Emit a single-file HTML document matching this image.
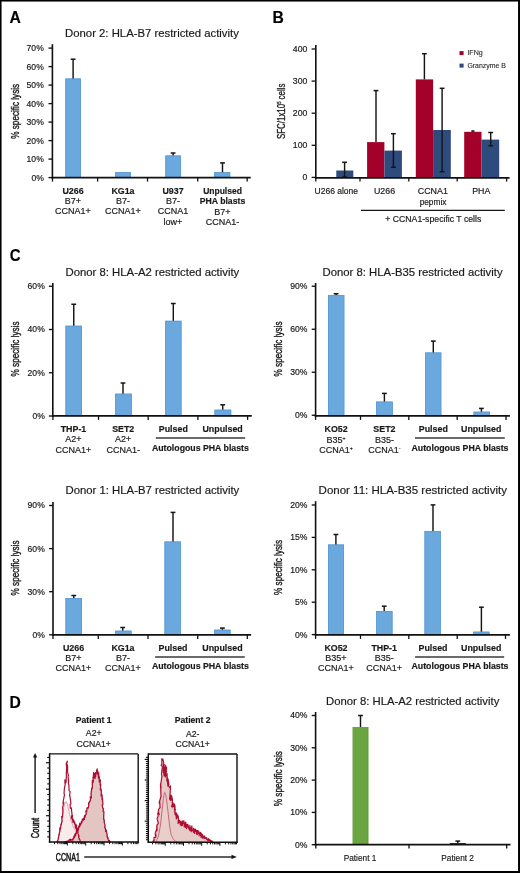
<!DOCTYPE html>
<html><head><meta charset="utf-8"><title>Figure</title>
<style>
html,body{margin:0;padding:0;background:#fff;}
body{width:520px;height:873px;overflow:hidden;position:relative;}
svg{position:absolute;left:0;top:0;display:block;will-change:transform;}
text{font-family:"Liberation Sans", sans-serif;stroke:#1a1a1a;stroke-width:0.18px;}
</style></head>
<body>
<svg width="520" height="873" viewBox="0 0 520 873">
<rect x="0" y="0" width="520" height="873" fill="#fff"/>
<text x="9.4" y="22.8" font-size="15.7" text-anchor="start" font-weight="bold" fill="#000" style="stroke:#000;stroke-width:0.15px">A</text>
<text x="272.6" y="22.8" font-size="15.7" text-anchor="start" font-weight="bold" fill="#000" style="stroke:#000;stroke-width:0.15px">B</text>
<text transform="translate(9.7,261.4) scale(0.92,1)" x="0" y="0" font-size="16.3" text-anchor="start" font-weight="bold" fill="#000" style="stroke:#000;stroke-width:0.15px">C</text>
<text x="9.6" y="707.8" font-size="15.7" text-anchor="start" font-weight="bold" fill="#000" style="stroke:#000;stroke-width:0.15px">D</text>
<text x="151.95" y="37.2" font-size="11.33" text-anchor="middle" fill="#1a1a1a">Donor 2: HLA-B7 restricted activity</text>
<line x1="48.5" y1="48.1" x2="52.4" y2="48.1" stroke="#111" stroke-width="1.35" stroke-linecap="butt"/>
<text x="43.8" y="51" font-size="8.6" text-anchor="end" fill="#1a1a1a">70%</text>
<line x1="48.5" y1="66.6" x2="52.4" y2="66.6" stroke="#111" stroke-width="1.35" stroke-linecap="butt"/>
<text x="43.8" y="69.5" font-size="8.6" text-anchor="end" fill="#1a1a1a">60%</text>
<line x1="48.5" y1="85.1" x2="52.4" y2="85.1" stroke="#111" stroke-width="1.35" stroke-linecap="butt"/>
<text x="43.8" y="88" font-size="8.6" text-anchor="end" fill="#1a1a1a">50%</text>
<line x1="48.5" y1="103.6" x2="52.4" y2="103.6" stroke="#111" stroke-width="1.35" stroke-linecap="butt"/>
<text x="43.8" y="106.5" font-size="8.6" text-anchor="end" fill="#1a1a1a">40%</text>
<line x1="48.5" y1="122.1" x2="52.4" y2="122.1" stroke="#111" stroke-width="1.35" stroke-linecap="butt"/>
<text x="43.8" y="125" font-size="8.6" text-anchor="end" fill="#1a1a1a">30%</text>
<line x1="48.5" y1="140.6" x2="52.4" y2="140.6" stroke="#111" stroke-width="1.35" stroke-linecap="butt"/>
<text x="43.8" y="143.5" font-size="8.6" text-anchor="end" fill="#1a1a1a">20%</text>
<line x1="48.5" y1="159.1" x2="52.4" y2="159.1" stroke="#111" stroke-width="1.35" stroke-linecap="butt"/>
<text x="43.8" y="162" font-size="8.6" text-anchor="end" fill="#1a1a1a">10%</text>
<line x1="48.5" y1="177.6" x2="52.4" y2="177.6" stroke="#111" stroke-width="1.35" stroke-linecap="butt"/>
<text x="43.8" y="180.5" font-size="8.6" text-anchor="end" fill="#1a1a1a">0%</text>
<rect x="65.4" y="78.5" width="15.5" height="99.1" fill="#6aa8de"/>
<rect x="65.8" y="78.9" width="14.7" height="98.7" fill="none" stroke="#5a9ad4" stroke-width="0.8"/>
<line x1="73.1" y1="59.2" x2="73.1" y2="78.5" stroke="#151515" stroke-width="1.45" stroke-linecap="butt"/>
<line x1="70.7" y1="59.2" x2="75.5" y2="59.2" stroke="#151515" stroke-width="1.5" stroke-linecap="butt"/>
<rect x="115.2" y="172.2" width="15.7" height="5.4" fill="#6aa8de"/>
<rect x="115.6" y="172.6" width="14.9" height="5" fill="none" stroke="#5a9ad4" stroke-width="0.8"/>
<rect x="165.4" y="155.5" width="15.4" height="22.1" fill="#6aa8de"/>
<rect x="165.8" y="155.9" width="14.6" height="21.7" fill="none" stroke="#5a9ad4" stroke-width="0.8"/>
<line x1="173.1" y1="153" x2="173.1" y2="155.5" stroke="#151515" stroke-width="1.45" stroke-linecap="butt"/>
<line x1="170.7" y1="153" x2="175.5" y2="153" stroke="#151515" stroke-width="1.5" stroke-linecap="butt"/>
<rect x="214.2" y="172.2" width="16" height="5.4" fill="#6aa8de"/>
<rect x="214.6" y="172.6" width="15.2" height="5" fill="none" stroke="#5a9ad4" stroke-width="0.8"/>
<line x1="222.5" y1="162.9" x2="222.5" y2="172.2" stroke="#151515" stroke-width="1.45" stroke-linecap="butt"/>
<line x1="220.1" y1="162.9" x2="224.9" y2="162.9" stroke="#151515" stroke-width="1.5" stroke-linecap="butt"/>
<line x1="52.4" y1="44.2" x2="52.4" y2="178.5" stroke="#111" stroke-width="1.6" stroke-linecap="butt"/>
<line x1="51.6" y1="177.6" x2="250.7" y2="177.6" stroke="#111" stroke-width="1.8" stroke-linecap="butt"/>
<line x1="52.5" y1="177.6" x2="52.5" y2="181.6" stroke="#111" stroke-width="1.3" stroke-linecap="butt"/>
<line x1="97.6" y1="177.6" x2="97.6" y2="181.6" stroke="#111" stroke-width="1.3" stroke-linecap="butt"/>
<line x1="147.5" y1="177.6" x2="147.5" y2="181.6" stroke="#111" stroke-width="1.3" stroke-linecap="butt"/>
<line x1="197.7" y1="177.6" x2="197.7" y2="181.6" stroke="#111" stroke-width="1.3" stroke-linecap="butt"/>
<line x1="247.2" y1="177.6" x2="247.2" y2="181.6" stroke="#111" stroke-width="1.3" stroke-linecap="butt"/>
<text x="73" y="193.8" font-size="8.85" text-anchor="middle" font-weight="bold" fill="#1a1a1a">U266</text>
<text x="73" y="203.9" font-size="9" text-anchor="middle" fill="#1a1a1a">B7+</text>
<text x="73" y="214.3" font-size="9" text-anchor="middle" fill="#1a1a1a">CCNA1+</text>
<text x="123" y="193.8" font-size="8.85" text-anchor="middle" font-weight="bold" fill="#1a1a1a">KG1a</text>
<text x="123" y="203.9" font-size="9" text-anchor="middle" fill="#1a1a1a">B7-</text>
<text x="123" y="214.3" font-size="9" text-anchor="middle" fill="#1a1a1a">CCNA1+</text>
<text x="173" y="193.8" font-size="8.85" text-anchor="middle" font-weight="bold" fill="#1a1a1a">U937</text>
<text x="173" y="203.9" font-size="9" text-anchor="middle" fill="#1a1a1a">B7-</text>
<text x="173" y="214.3" font-size="9" text-anchor="middle" fill="#1a1a1a">CCNA1</text>
<text x="173" y="224.7" font-size="9" text-anchor="middle" fill="#1a1a1a">low+</text>
<text x="222.5" y="193.8" font-size="8.5" text-anchor="middle" font-weight="bold" fill="#1a1a1a">Unpulsed</text>
<text x="222.5" y="204" font-size="8.7" text-anchor="middle" font-weight="bold" fill="#1a1a1a">PHA blasts</text>
<text x="222.5" y="214.6" font-size="9" text-anchor="middle" fill="#1a1a1a">B7+</text>
<text x="222.5" y="224.6" font-size="9" text-anchor="middle" fill="#1a1a1a">CCNA1-</text>
<text transform="translate(19,111.3) rotate(-90) scale(0.7,1)" x="0" y="0" font-size="11.7" text-anchor="middle" fill="#1a1a1a" style="stroke-width:0.4px">% specific lysis</text>
<line x1="311.6" y1="49" x2="315.8" y2="49" stroke="#111" stroke-width="1.3" stroke-linecap="butt"/>
<text x="307.3" y="52" font-size="8.7" text-anchor="end" fill="#1a1a1a">400</text>
<line x1="311.6" y1="81.1" x2="315.8" y2="81.1" stroke="#111" stroke-width="1.3" stroke-linecap="butt"/>
<text x="307.3" y="84.1" font-size="8.7" text-anchor="end" fill="#1a1a1a">300</text>
<line x1="311.6" y1="113.2" x2="315.8" y2="113.2" stroke="#111" stroke-width="1.3" stroke-linecap="butt"/>
<text x="307.3" y="116.2" font-size="8.7" text-anchor="end" fill="#1a1a1a">200</text>
<line x1="311.6" y1="145.3" x2="315.8" y2="145.3" stroke="#111" stroke-width="1.3" stroke-linecap="butt"/>
<text x="307.3" y="148.3" font-size="8.7" text-anchor="end" fill="#1a1a1a">100</text>
<line x1="311.6" y1="177.4" x2="315.8" y2="177.4" stroke="#111" stroke-width="1.3" stroke-linecap="butt"/>
<text x="307.3" y="180.4" font-size="8.7" text-anchor="end" fill="#1a1a1a">0</text>
<rect x="336.3" y="170.5" width="17" height="7.4" fill="#2e4b7d"/>
<line x1="344.6" y1="162.3" x2="344.6" y2="177" stroke="#151515" stroke-width="1.45" stroke-linecap="butt"/>
<line x1="342.2" y1="162.3" x2="347" y2="162.3" stroke="#151515" stroke-width="1.5" stroke-linecap="butt"/>
<line x1="342.2" y1="177" x2="347" y2="177" stroke="#151515" stroke-width="1.5" stroke-linecap="butt"/>
<rect x="367.1" y="142.1" width="17.3" height="35.8" fill="#a3002a"/>
<line x1="376" y1="90.6" x2="376" y2="142.1" stroke="#151515" stroke-width="1.45" stroke-linecap="butt"/>
<line x1="373.6" y1="90.6" x2="378.4" y2="90.6" stroke="#151515" stroke-width="1.5" stroke-linecap="butt"/>
<rect x="384.4" y="150.6" width="17.5" height="27.3" fill="#2e4b7d"/>
<line x1="393.4" y1="133.7" x2="393.4" y2="167.3" stroke="#151515" stroke-width="1.45" stroke-linecap="butt"/>
<line x1="391" y1="133.7" x2="395.8" y2="133.7" stroke="#151515" stroke-width="1.5" stroke-linecap="butt"/>
<line x1="391" y1="167.3" x2="395.8" y2="167.3" stroke="#151515" stroke-width="1.5" stroke-linecap="butt"/>
<rect x="415.8" y="79.4" width="17.3" height="98.5" fill="#a3002a"/>
<line x1="424.4" y1="53.7" x2="424.4" y2="79.4" stroke="#151515" stroke-width="1.45" stroke-linecap="butt"/>
<line x1="422" y1="53.7" x2="426.8" y2="53.7" stroke="#151515" stroke-width="1.5" stroke-linecap="butt"/>
<rect x="433.1" y="130" width="17.7" height="47.9" fill="#2e4b7d"/>
<line x1="442.1" y1="88.3" x2="442.1" y2="171.7" stroke="#151515" stroke-width="1.45" stroke-linecap="butt"/>
<line x1="439.7" y1="88.3" x2="444.5" y2="88.3" stroke="#151515" stroke-width="1.5" stroke-linecap="butt"/>
<line x1="439.7" y1="171.7" x2="444.5" y2="171.7" stroke="#151515" stroke-width="1.5" stroke-linecap="butt"/>
<rect x="464.2" y="131.8" width="17.3" height="46.1" fill="#a3002a"/>
<line x1="472.9" y1="131" x2="472.9" y2="131.8" stroke="#151515" stroke-width="1.45" stroke-linecap="butt"/>
<line x1="471.3" y1="131" x2="474.5" y2="131" stroke="#151515" stroke-width="1.5" stroke-linecap="butt"/>
<rect x="481.5" y="139.6" width="17.7" height="38.3" fill="#2e4b7d"/>
<line x1="490.7" y1="132.5" x2="490.7" y2="145.8" stroke="#151515" stroke-width="1.45" stroke-linecap="butt"/>
<line x1="488.3" y1="132.5" x2="493.1" y2="132.5" stroke="#151515" stroke-width="1.5" stroke-linecap="butt"/>
<line x1="488.3" y1="145.8" x2="493.1" y2="145.8" stroke="#151515" stroke-width="1.5" stroke-linecap="butt"/>
<line x1="315.8" y1="45" x2="315.8" y2="178.7" stroke="#111" stroke-width="1.6" stroke-linecap="butt"/>
<line x1="315" y1="177.9" x2="509.6" y2="177.9" stroke="#111" stroke-width="1.8" stroke-linecap="butt"/>
<line x1="315.8" y1="177.9" x2="315.8" y2="181.6" stroke="#111" stroke-width="1.3" stroke-linecap="butt"/>
<line x1="360" y1="177.9" x2="360" y2="181.6" stroke="#111" stroke-width="1.3" stroke-linecap="butt"/>
<line x1="408.8" y1="177.9" x2="408.8" y2="181.6" stroke="#111" stroke-width="1.3" stroke-linecap="butt"/>
<line x1="457.2" y1="177.9" x2="457.2" y2="181.6" stroke="#111" stroke-width="1.3" stroke-linecap="butt"/>
<line x1="506.6" y1="177.9" x2="506.6" y2="181.6" stroke="#111" stroke-width="1.3" stroke-linecap="butt"/>
<rect x="459.5" y="51.1" width="4.1" height="4" fill="#a3002a"/>
<text x="467.4" y="55.1" font-size="7.1" text-anchor="start" fill="#2a2a2a" style="stroke-width:0.1px">IFNg</text>
<rect x="459.5" y="63.6" width="4.1" height="4" fill="#2e4b7d"/>
<text x="467.4" y="67.5" font-size="6.95" text-anchor="start" fill="#2a2a2a" style="stroke-width:0.1px">Granzyme B</text>
<text x="336.3" y="193.6" font-size="8.5" text-anchor="middle" fill="#1a1a1a">U266 alone</text>
<text x="384.5" y="193.8" font-size="8.85" text-anchor="middle" fill="#1a1a1a">U266</text>
<text x="432.8" y="193.8" font-size="8.9" text-anchor="middle" fill="#1a1a1a">CCNA1</text>
<text x="433" y="204.6" font-size="8.3" text-anchor="middle" fill="#1a1a1a">pepmix</text>
<text x="481.3" y="193.8" font-size="8.8" text-anchor="middle" fill="#1a1a1a">PHA</text>
<line x1="361" y1="210.3" x2="504.8" y2="210.3" stroke="#151515" stroke-width="1.35" stroke-linecap="butt"/>
<text x="433.3" y="222.3" font-size="8.7" text-anchor="middle" fill="#1a1a1a">+ CCNA1-specific T cells</text>
<text transform="translate(285.3,111.3) rotate(-90) scale(0.69,1)" x="0" y="0" font-size="11.5" text-anchor="middle" fill="#1a1a1a" style="stroke-width:0.35px">SFC/1x10<tspan dy="-4.4" font-size="5.8">5</tspan><tspan dy="4.4"> cells</tspan></text>
<text x="65.5" y="275.8" font-size="11.33" text-anchor="start" fill="#1a1a1a">Donor 8: HLA-A2 restricted activity</text>
<line x1="48.9" y1="286.25" x2="52.8" y2="286.25" stroke="#111" stroke-width="1.35" stroke-linecap="butt"/>
<text x="44.8" y="289.15" font-size="8.6" text-anchor="end" fill="#1a1a1a">60%</text>
<line x1="48.9" y1="329.5" x2="52.8" y2="329.5" stroke="#111" stroke-width="1.35" stroke-linecap="butt"/>
<text x="44.8" y="332.4" font-size="8.6" text-anchor="end" fill="#1a1a1a">40%</text>
<line x1="48.9" y1="372.75" x2="52.8" y2="372.75" stroke="#111" stroke-width="1.35" stroke-linecap="butt"/>
<text x="44.8" y="375.65" font-size="8.6" text-anchor="end" fill="#1a1a1a">20%</text>
<line x1="48.9" y1="416" x2="52.8" y2="416" stroke="#111" stroke-width="1.35" stroke-linecap="butt"/>
<text x="44.8" y="418.9" font-size="8.6" text-anchor="end" fill="#1a1a1a">0%</text>
<rect x="65.5" y="325.75" width="16.5" height="90.15" fill="#6aa8de"/>
<rect x="65.9" y="326.15" width="15.7" height="89.75" fill="none" stroke="#5a9ad4" stroke-width="0.8"/>
<line x1="73.75" y1="304.25" x2="73.75" y2="325.75" stroke="#151515" stroke-width="1.45" stroke-linecap="butt"/>
<line x1="71.35" y1="304.25" x2="76.15" y2="304.25" stroke="#151515" stroke-width="1.5" stroke-linecap="butt"/>
<rect x="115.2" y="393.7" width="16.6" height="22.2" fill="#6aa8de"/>
<rect x="115.6" y="394.1" width="15.8" height="21.8" fill="none" stroke="#5a9ad4" stroke-width="0.8"/>
<line x1="123" y1="383" x2="123" y2="393.7" stroke="#151515" stroke-width="1.45" stroke-linecap="butt"/>
<line x1="120.6" y1="383" x2="125.4" y2="383" stroke="#151515" stroke-width="1.5" stroke-linecap="butt"/>
<rect x="165.2" y="320.8" width="16.3" height="95.1" fill="#6aa8de"/>
<rect x="165.6" y="321.2" width="15.5" height="94.7" fill="none" stroke="#5a9ad4" stroke-width="0.8"/>
<line x1="173.3" y1="303.5" x2="173.3" y2="320.8" stroke="#151515" stroke-width="1.45" stroke-linecap="butt"/>
<line x1="170.9" y1="303.5" x2="175.7" y2="303.5" stroke="#151515" stroke-width="1.5" stroke-linecap="butt"/>
<rect x="214.5" y="409.7" width="16.7" height="6.2" fill="#6aa8de"/>
<rect x="214.9" y="410.1" width="15.9" height="5.8" fill="none" stroke="#5a9ad4" stroke-width="0.8"/>
<line x1="222.7" y1="404.8" x2="222.7" y2="409.7" stroke="#151515" stroke-width="1.45" stroke-linecap="butt"/>
<line x1="220.3" y1="404.8" x2="225.1" y2="404.8" stroke="#151515" stroke-width="1.5" stroke-linecap="butt"/>
<line x1="52.8" y1="283" x2="52.8" y2="416.8" stroke="#111" stroke-width="1.6" stroke-linecap="butt"/>
<line x1="52" y1="415.9" x2="251.8" y2="415.9" stroke="#111" stroke-width="1.8" stroke-linecap="butt"/>
<line x1="52.9" y1="415.9" x2="52.9" y2="419.9" stroke="#111" stroke-width="1.3" stroke-linecap="butt"/>
<line x1="98.5" y1="415.9" x2="98.5" y2="419.9" stroke="#111" stroke-width="1.3" stroke-linecap="butt"/>
<line x1="148.2" y1="415.9" x2="148.2" y2="419.9" stroke="#111" stroke-width="1.3" stroke-linecap="butt"/>
<line x1="197.9" y1="415.9" x2="197.9" y2="419.9" stroke="#111" stroke-width="1.3" stroke-linecap="butt"/>
<line x1="247.6" y1="415.9" x2="247.6" y2="419.9" stroke="#111" stroke-width="1.3" stroke-linecap="butt"/>
<text x="73.5" y="432.2" font-size="8.85" text-anchor="middle" font-weight="bold" fill="#1a1a1a">THP-1</text>
<text x="73.5" y="442.2" font-size="9" text-anchor="middle" fill="#1a1a1a">A2+</text>
<text x="73.5" y="453.2" font-size="9" text-anchor="middle" fill="#1a1a1a">CCNA1+</text>
<text x="123.2" y="432.2" font-size="8.85" text-anchor="middle" font-weight="bold" fill="#1a1a1a">SET2</text>
<text x="123.2" y="442.2" font-size="9" text-anchor="middle" fill="#1a1a1a">A2+</text>
<text x="123.2" y="453.2" font-size="9" text-anchor="middle" fill="#1a1a1a">CCNA1-</text>
<text x="173.3" y="432.2" font-size="8.85" text-anchor="middle" font-weight="bold" fill="#1a1a1a">Pulsed</text>
<text x="222.6" y="432.2" font-size="8.85" text-anchor="middle" font-weight="bold" fill="#1a1a1a">Unpulsed</text>
<line x1="155.8" y1="438" x2="245.2" y2="438" stroke="#3a3a3a" stroke-width="1.45" stroke-linecap="butt"/>
<text x="200.4" y="450.5" font-size="8.75" text-anchor="middle" font-weight="bold" fill="#1a1a1a">Autologous PHA blasts</text>
<text transform="translate(19.2,349) rotate(-90) scale(0.7,1)" x="0" y="0" font-size="11.7" text-anchor="middle" fill="#1a1a1a" style="stroke-width:0.4px">% specific lysis</text>
<text x="322.5" y="275.5" font-size="11.33" text-anchor="start" fill="#1a1a1a">Donor 8: HLA-B35 restricted activity</text>
<line x1="311.7" y1="286.25" x2="315.6" y2="286.25" stroke="#111" stroke-width="1.35" stroke-linecap="butt"/>
<text x="307.4" y="289.15" font-size="8.6" text-anchor="end" fill="#1a1a1a">90%</text>
<line x1="311.7" y1="329.25" x2="315.6" y2="329.25" stroke="#111" stroke-width="1.35" stroke-linecap="butt"/>
<text x="307.4" y="332.15" font-size="8.6" text-anchor="end" fill="#1a1a1a">60%</text>
<line x1="311.7" y1="372.25" x2="315.6" y2="372.25" stroke="#111" stroke-width="1.35" stroke-linecap="butt"/>
<text x="307.4" y="375.15" font-size="8.6" text-anchor="end" fill="#1a1a1a">30%</text>
<line x1="311.7" y1="415.25" x2="315.6" y2="415.25" stroke="#111" stroke-width="1.35" stroke-linecap="butt"/>
<text x="307.4" y="418.15" font-size="8.6" text-anchor="end" fill="#1a1a1a">0%</text>
<rect x="328" y="295" width="16.3" height="120.9" fill="#6aa8de"/>
<rect x="328.4" y="295.4" width="15.5" height="120.5" fill="none" stroke="#5a9ad4" stroke-width="0.8"/>
<line x1="336.1" y1="293.75" x2="336.1" y2="295" stroke="#151515" stroke-width="1.45" stroke-linecap="butt"/>
<line x1="333.7" y1="293.75" x2="338.5" y2="293.75" stroke="#151515" stroke-width="1.5" stroke-linecap="butt"/>
<rect x="376.1" y="401.6" width="16.7" height="14.3" fill="#6aa8de"/>
<rect x="376.5" y="402" width="15.9" height="13.9" fill="none" stroke="#5a9ad4" stroke-width="0.8"/>
<line x1="384.4" y1="393.4" x2="384.4" y2="401.6" stroke="#151515" stroke-width="1.45" stroke-linecap="butt"/>
<line x1="382" y1="393.4" x2="386.8" y2="393.4" stroke="#151515" stroke-width="1.5" stroke-linecap="butt"/>
<rect x="425.2" y="352.5" width="16.1" height="63.4" fill="#6aa8de"/>
<rect x="425.6" y="352.9" width="15.3" height="63" fill="none" stroke="#5a9ad4" stroke-width="0.8"/>
<line x1="433.3" y1="341.1" x2="433.3" y2="352.5" stroke="#151515" stroke-width="1.45" stroke-linecap="butt"/>
<line x1="430.9" y1="341.1" x2="435.7" y2="341.1" stroke="#151515" stroke-width="1.5" stroke-linecap="butt"/>
<rect x="473.5" y="411.7" width="16.4" height="4.2" fill="#6aa8de"/>
<rect x="473.9" y="412.1" width="15.6" height="3.8" fill="none" stroke="#5a9ad4" stroke-width="0.8"/>
<line x1="481.4" y1="408.4" x2="481.4" y2="411.7" stroke="#151515" stroke-width="1.45" stroke-linecap="butt"/>
<line x1="479" y1="408.4" x2="483.8" y2="408.4" stroke="#151515" stroke-width="1.5" stroke-linecap="butt"/>
<line x1="315.6" y1="283" x2="315.6" y2="416.8" stroke="#111" stroke-width="1.6" stroke-linecap="butt"/>
<line x1="314.8" y1="415.9" x2="509.9" y2="415.9" stroke="#111" stroke-width="1.8" stroke-linecap="butt"/>
<line x1="315.6" y1="415.9" x2="315.6" y2="419.9" stroke="#111" stroke-width="1.3" stroke-linecap="butt"/>
<line x1="360.5" y1="415.9" x2="360.5" y2="419.9" stroke="#111" stroke-width="1.3" stroke-linecap="butt"/>
<line x1="408.8" y1="415.9" x2="408.8" y2="419.9" stroke="#111" stroke-width="1.3" stroke-linecap="butt"/>
<line x1="457.2" y1="415.9" x2="457.2" y2="419.9" stroke="#111" stroke-width="1.3" stroke-linecap="butt"/>
<line x1="506" y1="415.9" x2="506" y2="419.9" stroke="#111" stroke-width="1.3" stroke-linecap="butt"/>
<text x="336.1" y="431.6" font-size="8.85" text-anchor="middle" font-weight="bold" fill="#1a1a1a">KO52</text>
<text x="336.1" y="442.5" font-size="9" text-anchor="middle" fill="#1a1a1a">B35<tspan dy="-2.8" font-size="5.2">+</tspan></text>
<text x="336.1" y="452.5" font-size="9" text-anchor="middle" fill="#1a1a1a">CCNA1<tspan dy="-2.8" font-size="5.2">+</tspan></text>
<text x="384.4" y="432.2" font-size="8.85" text-anchor="middle" font-weight="bold" fill="#1a1a1a">SET2</text>
<text x="384.4" y="442.5" font-size="9" text-anchor="middle" fill="#1a1a1a">B35-</text>
<text x="384.4" y="452.5" font-size="9" text-anchor="middle" fill="#1a1a1a">CCNA1<tspan dy="-2.8" font-size="5.2">-</tspan></text>
<text x="433.3" y="432.2" font-size="8.85" text-anchor="middle" font-weight="bold" fill="#1a1a1a">Pulsed</text>
<text x="481.2" y="432.2" font-size="8.85" text-anchor="middle" font-weight="bold" fill="#1a1a1a">Unpulsed</text>
<line x1="415" y1="438" x2="504.8" y2="438" stroke="#3a3a3a" stroke-width="1.45" stroke-linecap="butt"/>
<text x="460" y="450.5" font-size="8.75" text-anchor="middle" font-weight="bold" fill="#1a1a1a">Autologous PHA blasts</text>
<text transform="translate(282.2,349) rotate(-90) scale(0.7,1)" x="0" y="0" font-size="11.7" text-anchor="middle" fill="#1a1a1a" style="stroke-width:0.4px">% specific lysis</text>
<text x="65.5" y="493.8" font-size="11.33" text-anchor="start" fill="#1a1a1a">Donor 1: HLA-B7 restricted activity</text>
<line x1="49.1" y1="505.5" x2="53" y2="505.5" stroke="#111" stroke-width="1.35" stroke-linecap="butt"/>
<text x="44.8" y="508.4" font-size="8.6" text-anchor="end" fill="#1a1a1a">90%</text>
<line x1="49.1" y1="548.6" x2="53" y2="548.6" stroke="#111" stroke-width="1.35" stroke-linecap="butt"/>
<text x="44.8" y="551.5" font-size="8.6" text-anchor="end" fill="#1a1a1a">60%</text>
<line x1="49.1" y1="591.7" x2="53" y2="591.7" stroke="#111" stroke-width="1.35" stroke-linecap="butt"/>
<text x="44.8" y="594.6" font-size="8.6" text-anchor="end" fill="#1a1a1a">30%</text>
<line x1="49.1" y1="634.8" x2="53" y2="634.8" stroke="#111" stroke-width="1.35" stroke-linecap="butt"/>
<text x="44.8" y="637.7" font-size="8.6" text-anchor="end" fill="#1a1a1a">0%</text>
<rect x="65.5" y="598" width="16.5" height="36.9" fill="#6aa8de"/>
<rect x="65.9" y="598.4" width="15.7" height="36.5" fill="none" stroke="#5a9ad4" stroke-width="0.8"/>
<line x1="73.75" y1="595.5" x2="73.75" y2="598" stroke="#151515" stroke-width="1.45" stroke-linecap="butt"/>
<line x1="71.35" y1="595.5" x2="76.15" y2="595.5" stroke="#151515" stroke-width="1.5" stroke-linecap="butt"/>
<rect x="115.2" y="630.7" width="16.3" height="4.2" fill="#6aa8de"/>
<rect x="115.6" y="631.1" width="15.5" height="3.8" fill="none" stroke="#5a9ad4" stroke-width="0.8"/>
<line x1="122.7" y1="627.5" x2="122.7" y2="630.7" stroke="#151515" stroke-width="1.45" stroke-linecap="butt"/>
<line x1="120.3" y1="627.5" x2="125.1" y2="627.5" stroke="#151515" stroke-width="1.5" stroke-linecap="butt"/>
<rect x="164.5" y="541.5" width="16.3" height="93.4" fill="#6aa8de"/>
<rect x="164.9" y="541.9" width="15.5" height="93" fill="none" stroke="#5a9ad4" stroke-width="0.8"/>
<line x1="173" y1="512.4" x2="173" y2="541.5" stroke="#151515" stroke-width="1.45" stroke-linecap="butt"/>
<line x1="170.6" y1="512.4" x2="175.4" y2="512.4" stroke="#151515" stroke-width="1.5" stroke-linecap="butt"/>
<rect x="214.2" y="629.7" width="16.3" height="5.2" fill="#6aa8de"/>
<rect x="214.6" y="630.1" width="15.5" height="4.8" fill="none" stroke="#5a9ad4" stroke-width="0.8"/>
<line x1="222.4" y1="628.1" x2="222.4" y2="629.7" stroke="#151515" stroke-width="1.45" stroke-linecap="butt"/>
<line x1="220" y1="628.1" x2="224.8" y2="628.1" stroke="#151515" stroke-width="1.5" stroke-linecap="butt"/>
<line x1="53" y1="502" x2="53" y2="635.8" stroke="#111" stroke-width="1.6" stroke-linecap="butt"/>
<line x1="52.2" y1="634.9" x2="251.1" y2="634.9" stroke="#111" stroke-width="1.8" stroke-linecap="butt"/>
<line x1="53" y1="634.9" x2="53" y2="638.9" stroke="#111" stroke-width="1.3" stroke-linecap="butt"/>
<line x1="98.3" y1="634.9" x2="98.3" y2="638.9" stroke="#111" stroke-width="1.3" stroke-linecap="butt"/>
<line x1="148" y1="634.9" x2="148" y2="638.9" stroke="#111" stroke-width="1.3" stroke-linecap="butt"/>
<line x1="197.7" y1="634.9" x2="197.7" y2="638.9" stroke="#111" stroke-width="1.3" stroke-linecap="butt"/>
<line x1="247.3" y1="634.9" x2="247.3" y2="638.9" stroke="#111" stroke-width="1.3" stroke-linecap="butt"/>
<text x="73.5" y="650.6" font-size="8.85" text-anchor="middle" font-weight="bold" fill="#1a1a1a">U266</text>
<text x="73.5" y="661" font-size="9" text-anchor="middle" fill="#1a1a1a">B7+</text>
<text x="73.5" y="671.4" font-size="9" text-anchor="middle" fill="#1a1a1a">CCNA1+</text>
<text x="123" y="650.6" font-size="8.85" text-anchor="middle" font-weight="bold" fill="#1a1a1a">KG1a</text>
<text x="123" y="661" font-size="9" text-anchor="middle" fill="#1a1a1a">B7-</text>
<text x="123" y="671.4" font-size="9" text-anchor="middle" fill="#1a1a1a">CCNA1+</text>
<text x="173" y="650.6" font-size="8.85" text-anchor="middle" font-weight="bold" fill="#1a1a1a">Pulsed</text>
<text x="222.4" y="650.6" font-size="8.85" text-anchor="middle" font-weight="bold" fill="#1a1a1a">Unpulsed</text>
<line x1="155.1" y1="656.9" x2="244.8" y2="656.9" stroke="#3a3a3a" stroke-width="1.45" stroke-linecap="butt"/>
<text x="200.4" y="669" font-size="8.75" text-anchor="middle" font-weight="bold" fill="#1a1a1a">Autologous PHA blasts</text>
<text transform="translate(19.3,568) rotate(-90) scale(0.7,1)" x="0" y="0" font-size="11.7" text-anchor="middle" fill="#1a1a1a" style="stroke-width:0.4px">% specific lysis</text>
<text x="318.6" y="493.8" font-size="11.5" text-anchor="start" fill="#1a1a1a">Donor 11: HLA-B35 restricted activity</text>
<line x1="311.7" y1="505" x2="315.6" y2="505" stroke="#111" stroke-width="1.35" stroke-linecap="butt"/>
<text x="307.4" y="507.9" font-size="8.6" text-anchor="end" fill="#1a1a1a">20%</text>
<line x1="311.7" y1="537.4" x2="315.6" y2="537.4" stroke="#111" stroke-width="1.35" stroke-linecap="butt"/>
<text x="307.4" y="540.3" font-size="8.6" text-anchor="end" fill="#1a1a1a">15%</text>
<line x1="311.7" y1="569.8" x2="315.6" y2="569.8" stroke="#111" stroke-width="1.35" stroke-linecap="butt"/>
<text x="307.4" y="572.7" font-size="8.6" text-anchor="end" fill="#1a1a1a">10%</text>
<line x1="311.7" y1="602.2" x2="315.6" y2="602.2" stroke="#111" stroke-width="1.35" stroke-linecap="butt"/>
<text x="307.4" y="605.1" font-size="8.6" text-anchor="end" fill="#1a1a1a">5%</text>
<line x1="311.7" y1="634.6" x2="315.6" y2="634.6" stroke="#111" stroke-width="1.35" stroke-linecap="butt"/>
<text x="307.4" y="637.5" font-size="8.6" text-anchor="end" fill="#1a1a1a">0%</text>
<rect x="328" y="544.5" width="16" height="90.4" fill="#6aa8de"/>
<rect x="328.4" y="544.9" width="15.2" height="90" fill="none" stroke="#5a9ad4" stroke-width="0.8"/>
<line x1="335.9" y1="534.5" x2="335.9" y2="544.5" stroke="#151515" stroke-width="1.45" stroke-linecap="butt"/>
<line x1="333.5" y1="534.5" x2="338.3" y2="534.5" stroke="#151515" stroke-width="1.5" stroke-linecap="butt"/>
<rect x="376.1" y="611.1" width="16.4" height="23.8" fill="#6aa8de"/>
<rect x="376.5" y="611.5" width="15.6" height="23.4" fill="none" stroke="#5a9ad4" stroke-width="0.8"/>
<line x1="384.2" y1="606.2" x2="384.2" y2="611.1" stroke="#151515" stroke-width="1.45" stroke-linecap="butt"/>
<line x1="381.8" y1="606.2" x2="386.6" y2="606.2" stroke="#151515" stroke-width="1.5" stroke-linecap="butt"/>
<rect x="424.5" y="531" width="16.3" height="103.9" fill="#6aa8de"/>
<rect x="424.9" y="531.4" width="15.5" height="103.5" fill="none" stroke="#5a9ad4" stroke-width="0.8"/>
<line x1="433" y1="504.9" x2="433" y2="531" stroke="#151515" stroke-width="1.45" stroke-linecap="butt"/>
<line x1="430.6" y1="504.9" x2="435.4" y2="504.9" stroke="#151515" stroke-width="1.5" stroke-linecap="butt"/>
<rect x="473.2" y="631.7" width="16.3" height="3.2" fill="#6aa8de"/>
<rect x="473.6" y="632.1" width="15.5" height="2.8" fill="none" stroke="#5a9ad4" stroke-width="0.8"/>
<line x1="481.4" y1="607.2" x2="481.4" y2="631.7" stroke="#151515" stroke-width="1.45" stroke-linecap="butt"/>
<line x1="479" y1="607.2" x2="483.8" y2="607.2" stroke="#151515" stroke-width="1.5" stroke-linecap="butt"/>
<line x1="315.6" y1="501.2" x2="315.6" y2="635.8" stroke="#111" stroke-width="1.6" stroke-linecap="butt"/>
<line x1="314.8" y1="634.9" x2="509.9" y2="634.9" stroke="#111" stroke-width="1.8" stroke-linecap="butt"/>
<line x1="315.6" y1="634.9" x2="315.6" y2="638.9" stroke="#111" stroke-width="1.3" stroke-linecap="butt"/>
<line x1="360.5" y1="634.9" x2="360.5" y2="638.9" stroke="#111" stroke-width="1.3" stroke-linecap="butt"/>
<line x1="408.8" y1="634.9" x2="408.8" y2="638.9" stroke="#111" stroke-width="1.3" stroke-linecap="butt"/>
<line x1="457.2" y1="634.9" x2="457.2" y2="638.9" stroke="#111" stroke-width="1.3" stroke-linecap="butt"/>
<line x1="505.5" y1="634.9" x2="505.5" y2="638.9" stroke="#111" stroke-width="1.3" stroke-linecap="butt"/>
<text x="336" y="650.6" font-size="8.85" text-anchor="middle" font-weight="bold" fill="#1a1a1a">KO52</text>
<text x="336" y="661" font-size="9" text-anchor="middle" fill="#1a1a1a">B35+</text>
<text x="336" y="671.4" font-size="9" text-anchor="middle" fill="#1a1a1a">CCNA1+</text>
<text x="384.2" y="650.6" font-size="8.85" text-anchor="middle" font-weight="bold" fill="#1a1a1a">THP-1</text>
<text x="384.2" y="661" font-size="9" text-anchor="middle" fill="#1a1a1a">B35-</text>
<text x="384.2" y="671.4" font-size="9" text-anchor="middle" fill="#1a1a1a">CCNA1+</text>
<text x="433" y="650.6" font-size="8.85" text-anchor="middle" font-weight="bold" fill="#1a1a1a">Pulsed</text>
<text x="481.2" y="650.6" font-size="8.85" text-anchor="middle" font-weight="bold" fill="#1a1a1a">Unpulsed</text>
<line x1="415.1" y1="656.9" x2="504.2" y2="656.9" stroke="#3a3a3a" stroke-width="1.45" stroke-linecap="butt"/>
<text x="460" y="669" font-size="8.75" text-anchor="middle" font-weight="bold" fill="#1a1a1a">Autologous PHA blasts</text>
<text transform="translate(282.2,567.5) rotate(-90) scale(0.7,1)" x="0" y="0" font-size="11.7" text-anchor="middle" fill="#1a1a1a" style="stroke-width:0.4px">% specific lysis</text>
<text x="326" y="705" font-size="11.3" text-anchor="start" fill="#1a1a1a">Donor 8: HLA-A2 restricted activity</text>
<line x1="311.7" y1="715.5" x2="315.6" y2="715.5" stroke="#111" stroke-width="1.35" stroke-linecap="butt"/>
<text x="307.4" y="718.4" font-size="8.6" text-anchor="end" fill="#1a1a1a">40%</text>
<line x1="311.7" y1="747.8" x2="315.6" y2="747.8" stroke="#111" stroke-width="1.35" stroke-linecap="butt"/>
<text x="307.4" y="750.7" font-size="8.6" text-anchor="end" fill="#1a1a1a">30%</text>
<line x1="311.7" y1="780.1" x2="315.6" y2="780.1" stroke="#111" stroke-width="1.35" stroke-linecap="butt"/>
<text x="307.4" y="783" font-size="8.6" text-anchor="end" fill="#1a1a1a">20%</text>
<line x1="311.7" y1="812.4" x2="315.6" y2="812.4" stroke="#111" stroke-width="1.35" stroke-linecap="butt"/>
<text x="307.4" y="815.3" font-size="8.6" text-anchor="end" fill="#1a1a1a">10%</text>
<line x1="311.7" y1="844.7" x2="315.6" y2="844.7" stroke="#111" stroke-width="1.35" stroke-linecap="butt"/>
<text x="307.4" y="847.6" font-size="8.6" text-anchor="end" fill="#1a1a1a">0%</text>
<rect x="352.5" y="727" width="15.8" height="117.6" fill="#6ba542"/>
<rect x="367.3" y="727" width="1" height="117.6" fill="#5e9e34"/>
<line x1="360.5" y1="715.5" x2="360.5" y2="727" stroke="#151515" stroke-width="1.45" stroke-linecap="butt"/>
<line x1="358.1" y1="715.5" x2="362.9" y2="715.5" stroke="#151515" stroke-width="1.5" stroke-linecap="butt"/>
<rect x="449.8" y="843" width="16" height="1.6" fill="#2b3327"/>
<line x1="457.8" y1="841.1" x2="457.8" y2="843" stroke="#151515" stroke-width="1.45" stroke-linecap="butt"/>
<line x1="455.4" y1="841.1" x2="460.2" y2="841.1" stroke="#151515" stroke-width="1.5" stroke-linecap="butt"/>
<line x1="315.6" y1="712" x2="315.6" y2="845.5" stroke="#111" stroke-width="1.6" stroke-linecap="butt"/>
<line x1="314.8" y1="844.6" x2="510.5" y2="844.6" stroke="#111" stroke-width="1.8" stroke-linecap="butt"/>
<line x1="315.8" y1="844.6" x2="315.8" y2="848.6" stroke="#111" stroke-width="1.3" stroke-linecap="butt"/>
<line x1="409" y1="844.6" x2="409" y2="848.6" stroke="#111" stroke-width="1.3" stroke-linecap="butt"/>
<line x1="506.7" y1="844.6" x2="506.7" y2="848.6" stroke="#111" stroke-width="1.3" stroke-linecap="butt"/>
<text transform="translate(360,860.8) scale(0.89,1)" x="0" y="0" font-size="9.3" text-anchor="middle" fill="#1a1a1a">Patient 1</text>
<text transform="translate(457.6,860.8) scale(0.89,1)" x="0" y="0" font-size="9.3" text-anchor="middle" fill="#1a1a1a">Patient 2</text>
<text transform="translate(282.2,778.7) rotate(-90) scale(0.7,1)" x="0" y="0" font-size="11.7" text-anchor="middle" fill="#1a1a1a" style="stroke-width:0.4px">% specific lysis</text>
<text x="93.7" y="722.8" font-size="8.6" text-anchor="middle" font-weight="bold" fill="#1a1a1a">Patient 1</text>
<text x="93.7" y="736.2" font-size="8.7" text-anchor="middle" fill="#1a1a1a">A2+</text>
<text x="93.7" y="747" font-size="8.7" text-anchor="middle" fill="#1a1a1a">CCNA1+</text>
<text x="192.7" y="723.2" font-size="8.6" text-anchor="middle" font-weight="bold" fill="#1a1a1a">Patient 2</text>
<text x="192.7" y="737.2" font-size="8.7" text-anchor="middle" fill="#1a1a1a">A2-</text>
<text x="192.7" y="747.3" font-size="8.7" text-anchor="middle" fill="#1a1a1a">CCNA1+</text>
<path d="M57.5,842 L57.5,842 L57.8,840.69 L58.1,839.34 L58.4,838.06 L58.7,836.75 L59,835.29 L59.3,833.94 L59.6,832.86 L59.9,831.36 L60.2,829.71 L60.5,828.19 L60.8,826.19 L61.1,824.54 L61.4,822.59 L61.7,820.86 L62,818.83 L62.3,817.27 L62.6,815.52 L62.9,813.35 L63.2,811.47 L63.5,809.43 L63.8,807.08 L64.1,805.89 L64.4,804.99 L64.7,804.01 L65,803.04 L65.3,802.76 L65.6,801.93 L65.9,801.94 L66.2,801.89 L66.5,801.64 L66.8,802.52 L67.1,802.93 L67.4,803.94 L67.7,804.9 L68,806.59 L68.3,807.96 L68.6,808.9 L68.9,810.33 L69.2,811.74 L69.5,813.5 L69.8,814.57 L70.1,816.01 L70.4,817.2 L70.7,818.65 L71,819.95 L71.3,820.83 L71.6,821.84 L71.9,822.74 L72.2,823.77 L72.5,824.58 L72.8,825.57 L73.1,826.34 L73.4,826.99 L73.7,827.47 L74,827.87 L74.3,828.73 L74.6,829.37 L74.9,829.94 L75.2,830.42 L75.5,831.07 L75.8,831.57 L76.1,832.42 L76.4,833 L76.7,833.58 L77,834.18 L77.3,835.05 L77.6,835.74 L77.9,836.18 L78.2,836.89 L78.5,837.28 L78.8,837.71 L79.1,838.22 L79.4,838.79 L79.7,839.28 L80,839.63 L80.3,840.2 L80.6,840.55 L80.9,840.92 L81.2,841.18 L81.5,841.53 L81.8,841.82 L82,842 Z" fill="#f7ebeb" stroke="#d07d8e" stroke-width="0.7" stroke-linejoin="round"/>
<path d="M64.6,842 L64.6,842 L64.9,842 L65.2,842 L65.5,842 L65.8,842 L66.1,842 L66.4,842 L66.7,842 L67,842 L67.3,842 L67.6,842 L67.9,842 L68.2,841.9 L68.5,841.74 L68.8,841.58 L69.1,841.43 L69.4,841.27 L69.7,841.12 L70,840.96 L70.3,840.8 L70.6,840.76 L70.9,840.94 L71.2,841.12 L71.5,841.3 L71.8,841.48 L72.1,841.44 L72.4,840.95 L72.7,840.46 L73,839.98 L73.3,839.49 L73.6,839 L73.9,838.51 L74.2,838.03 L74.5,837.54 L74.8,837.05 L75.1,836.56 L75.4,835.9 L75.7,835.16 L76,834.42 L76.3,833.68 L76.6,832.93 L76.9,832.19 L77.2,831.45 L77.5,830.78 L77.8,830.16 L78.1,829.54 L78.4,828.92 L78.7,828.29 L79,827.67 L79.3,827.05 L79.6,826.42 L79.9,825.8 L80.2,825.32 L80.5,824.83 L80.8,824.35 L81.1,823.86 L81.4,823.38 L81.7,822.89 L82,822.41 L82.3,821.92 L82.6,821.41 L82.9,820.83 L83.2,820.25 L83.5,819.67 L83.8,819.1 L84.1,818.52 L84.4,817.94 L84.7,817.36 L85,816.79 L85.3,816.15 L85.6,815.42 L85.9,814.68 L86.2,813.94 L86.5,813.2 L86.8,812.46 L87.1,811.72 L87.4,810.98 L87.7,810.25 L88,809.21 L88.3,808.03 L88.6,806.85 L88.9,805.67 L89.2,804.49 L89.5,803.28 L89.8,802.02 L90.1,800.76 L90.4,799.5 L90.7,798.24 L91,796.64 L91.3,794.35 L91.6,792.05 L91.9,789.76 L92.2,786.88 L92.5,783.7 L92.8,781.11 L93.1,778.52 L93.4,775.93 L93.7,774.63 L94,775.92 L94.3,777.21 L94.6,778.5 L94.9,777.58 L95.2,776.66 L95.5,775.74 L95.8,774.81 L96.1,773.84 L96.4,772.76 L96.7,771.68 L97,770.6 L97.3,772.18 L97.6,773.76 L97.9,775.35 L98.2,776.59 L98.5,777.16 L98.8,777.74 L99.1,778.31 L99.4,779.76 L99.7,781.65 L100,783.54 L100.3,785.56 L100.6,787.85 L100.9,790.15 L101.2,792.44 L101.5,794.95 L101.8,797.57 L102.1,800.2 L102.4,802.82 L102.7,805.61 L103,808.47 L103.3,811.34 L103.6,814.2 L103.9,817.38 L104.2,820.56 L104.5,823.74 L104.8,825.96 L105.1,827.71 L105.4,829.45 L105.7,831.2 L106,832.36 L106.3,833.52 L106.6,834.69 L106.9,835.85 L107.2,837.01 L107.5,837.96 L107.8,838.8 L108.1,839.64 L108.4,840.48 L108.7,841.32 L109,841.65 L109.3,841.72 L109.6,841.8 L109.9,841.87 L110.2,841.95 L110.4,842 Z" fill="#e3c6c2" stroke="#c8687a" stroke-width="0.6" stroke-linejoin="round"/>
<path d="M64.6,842 L64.84,842 L65.26,842 L65.46,841.96 L65.23,841.7 L65.63,841.95 L65.31,841.9 L65.67,841.68 L66.21,841.66 L66.08,841.34 L67,841.41 L66.46,841.64 L66.66,841.61 L66.87,841.45 L67.83,841 L67.4,841.08 L68.27,841.56 L68.58,840.96 L68.52,841 L69,840.56 L69.25,840.85 L68.8,840.9 L68.89,840.23 L69.01,839.84 L69.76,839.85 L70.06,839.35 L69.91,839.58 L70.3,840.02 L70.52,839.29 L70.32,839.91 L70.5,840.35 L71.54,840.21 L71.71,839.51 L71.72,840.04 L71.41,839.81 L72.54,839.93 L72.56,839.56 L72.96,840.09 L72.59,838.99 L73.24,838.88 L73.43,837.89 L73.76,838.59 L74.07,837 L73.68,836.71 L74.48,837.25 L74.7,836.4 L74.31,836.42 L74.4,835.62 L74.59,834.77 L75.66,835.66 L74.93,834.03 L75.63,835.3 L75.56,833.45 L76.37,833.34 L76.18,832.47 L76.9,830.91 L76.69,830.27 L76.55,831.84 L77.59,831.03 L77.65,830.24 L77.51,828.3 L78.14,827.95 L77.97,827.9 L78.59,829.54 L78.41,829.04 L78.91,827.1 L78.69,826.61 L78.77,825.91 L79.83,825.37 L79.69,826.81 L79.62,824.85 L79.77,823.06 L80.59,825.04 L80.73,823.25 L80.85,824.32 L81.14,823.59 L81.3,822.18 L81.31,821.53 L81.73,822.92 L82.21,820.85 L82.06,821.79 L82.25,819.09 L82.59,819.61 L82.96,819.99 L83.16,820.26 L83.22,818.7 L83.63,819.77 L83.86,817.85 L83.93,819.46 L84.42,819.47 L84.21,817.24 L84.74,815.4 L84.6,818.09 L85.06,816.68 L84.73,816.42 L85.36,816.17 L85.42,815.16 L85.99,814.44 L86.16,813.96 L85.82,810.8 L86.53,812.04 L86.79,810.52 L86.36,811.79 L86.77,810.54 L86.89,808.12 L87.16,808.76 L87.24,807.64 L87.8,808.17 L88.23,807.99 L88.76,805.35 L88.49,803.32 L88.71,803.78 L89.35,802.1 L88.78,802.5 L89.05,802.82 L89.52,801.55 L90.36,800.82 L90.04,801.14 L90.48,800.2 L90.2,796.93 L90.84,797.22 L91.47,797.93 L91.07,794.36 L90.94,794.3 L91.73,788.14 L91.52,789.39 L92.49,787.51 L92.25,783.65 L92.33,780.46 L92.64,783.22 L93.39,781.3 L92.96,777.08 L93.42,777.71 L93.46,772.61 L93.85,777.31 L94.06,773.67 L94.42,773.55 L94.31,776.59 L95.07,778.69 L94.99,773.04 L95.62,774.04 L95.15,776.69 L95.27,772.64 L95.63,776.73 L96.03,773.5 L96.38,772.96 L96.12,772.84 L96.52,772.17 L96.78,769.84 L97.19,768.87 L97.24,771.16 L97.69,774.2 L97.57,770.66 L98.46,774.59 L98.31,778.04 L98.76,772.77 L98.78,775.88 L99.05,778.11 L99.55,777.07 L99.25,777.58 L99.28,781.92 L100.13,779.81 L100.36,779.79 L100.17,785.09 L100.74,784.3 L100.32,789.7 L100.95,788.82 L100.95,790.61 L101.43,790.4 L101.13,796 L102.1,794.74 L102.16,799.67 L102.44,797.59 L102.94,804.4 L102.21,805.02 L102.6,807.77 L103.55,808.9 L102.95,811.28 L103.96,811.52 L103.87,813.23 L103.64,816.68 L103.74,819.83 L104.3,820.28 L104.2,822.37 L105.1,825.36 L104.71,827.59 L105.11,827.47 L105.51,829.24 L105.61,831.36 L106.16,829.83 L106.31,830.97 L106.81,832.73 L106.74,833.69 L106.89,833.9 L107.31,834.76 L106.91,836.16 L107.37,836.27 L107.4,837.78 L108.1,838.33 L108.33,838 L108,838.68 L108.34,839.95 L108.8,840.8 L109.34,840.48 L109.49,840.46 L109.13,840.74 L109.88,841.6 L109.54,841.37 L110.31,841.93 L110,842 L110.4,842" fill="none" stroke="#ac0f32" stroke-width="1.2" stroke-opacity="1" stroke-linejoin="round"/>
<path d="M57,842 L57.39,842 L56.93,841.55 L57.64,840.6 L57.97,840.25 L58.2,839.1 L58.46,837.88 L58.22,837.93 L58.76,836.52 L58.82,834.59 L58.7,835.41 L59.42,834.49 L59.22,833.72 L60,830.14 L59.79,831.75 L59.72,827.94 L60.05,828.75 L60.63,828.81 L60.93,824.23 L61.48,823.59 L61.2,824.89 L61.64,822.32 L62.19,821.85 L61.67,816.47 L61.83,818.19 L61.79,816.82 L62.53,817.17 L62.92,810.07 L62.58,808.55 L62.73,806.97 L63.82,802.48 L63.02,803.18 L63.24,801.03 L64.53,794.69 L64.03,793.79 L64.35,788.81 L65.3,783.65 L64.83,779.87 L65.02,783.49 L65.05,783.8 L66.05,782.08 L66.27,777.62 L66.42,773.74 L66.26,773.84 L66.71,767.71 L66.18,763.62 L66.62,762.82 L67.46,761.23 L66.77,763.44 L67.67,766.62 L67.49,771.8 L68.51,775.57 L68.11,775.75 L68.57,783.1 L68.63,779.74 L68.45,783.62 L68.87,784.99 L69.11,790.66 L70.1,791.66 L69.61,795.87 L69.76,795.58 L70.19,797.59 L70.94,804.04 L70.05,804.28 L70.33,808.28 L71.41,807.91 L71.56,810.7 L72.05,814.31 L71.21,818.18 L72.5,815.62 L72.09,819.01 L72.78,820.97 L72.58,820.2 L72.67,818.65 L73.21,819.34 L72.85,822.09 L73.02,822.63 L73.89,820.52 L74.42,822.7 L74.4,823.93 L74.78,822.01 L74.74,822.27 L75.31,826.53 L74.98,826.85 L75.61,826.35 L76.01,824.3 L75.63,828.09 L75.86,827.92 L76.39,826.19 L76.72,825.73 L76.32,829.93 L76.3,830.16 L76.76,830.25 L77.16,831.41 L76.9,831.97 L78.06,829.68 L77.94,832.45 L77.73,831.19 L77.8,833.12 L78.88,835.82 L79.02,836.44 L78.49,835.79 L78.76,837.81 L79.4,838.41 L79.15,839.36 L79.9,839.84 L80.13,840.74 L80.06,841.41 L80.5,842" fill="none" stroke="#ac0f32" stroke-width="1.2" stroke-opacity="1" stroke-linejoin="round"/>
<path d="M153.1,842 L153.1,842 L153.4,841.56 L153.7,841.12 L154,840.69 L154.3,840.25 L154.6,839.81 L154.9,839.37 L155.2,838.94 L155.5,838.5 L155.8,836.89 L156.1,835.28 L156.4,833.67 L156.7,832.06 L157,830.45 L157.3,828.84 L157.6,826.29 L157.9,823.28 L158.2,820.26 L158.5,817.25 L158.8,814.23 L159.1,811.22 L159.4,808.2 L159.7,804.56 L160,800.61 L160.3,796.65 L160.6,792.69 L160.9,788.74 L161.2,783.38 L161.5,775.22 L161.8,768.6 L162.1,762.75 L162.4,763.23 L162.7,766.86 L163,770.5 L163.3,771.3 L163.6,772.1 L163.9,772.9 L164.2,773.7 L164.5,774.5 L164.8,774.1 L165.1,773.7 L165.4,773.3 L165.7,772.9 L166,772.5 L166.3,773.96 L166.6,775.41 L166.9,776.87 L167.2,778.33 L167.5,779.88 L167.8,781.6 L168.1,783.33 L168.4,785.05 L168.7,786.78 L169,788.5 L169.3,790.56 L169.6,792.62 L169.9,794.68 L170.2,796.74 L170.5,798.8 L170.8,799.95 L171.1,801.09 L171.4,802.24 L171.7,803.38 L172,804.53 L172.3,805.67 L172.6,806.82 L172.9,807.85 L173.2,808.82 L173.5,809.78 L173.8,810.75 L174.1,811.72 L174.4,812.69 L174.7,813.66 L175,814.63 L175.3,815.6 L175.6,816.21 L175.9,816.82 L176.2,817.43 L176.5,818.05 L176.8,818.66 L177.1,819.27 L177.4,819.88 L177.7,820.49 L178,821.11 L178.3,821.73 L178.6,822.35 L178.9,822.97 L179.2,823.6 L179.5,824.22 L179.8,824.84 L180.1,825.46 L180.4,826.09 L180.7,826.49 L181,826.44 L181.3,826.4 L181.6,826.36 L181.9,826.31 L182.2,826.27 L182.5,826.23 L182.8,826.25 L183.1,826.39 L183.4,826.53 L183.7,826.68 L184,826.82 L184.3,826.96 L184.6,827.1 L184.9,827.26 L185.2,827.43 L185.5,827.6 L185.8,827.77 L186.1,827.94 L186.4,828.11 L186.7,828.28 L187,828.45 L187.3,828.62 L187.6,828.79 L187.9,828.96 L188.2,829.13 L188.5,829.3 L188.8,829.47 L189.1,829.64 L189.4,829.81 L189.7,829.98 L190,830.15 L190.3,830.32 L190.6,830.49 L190.9,830.66 L191.2,830.83 L191.5,831 L191.8,831.23 L192.1,831.46 L192.4,831.69 L192.7,831.92 L193,832.15 L193.3,832.38 L193.6,832.61 L193.9,832.84 L194.2,833.07 L194.5,833.3 L194.8,833.5 L195.1,833.7 L195.4,833.9 L195.7,834.1 L196,834.3 L196.3,834.5 L196.6,834.7 L196.9,834.9 L197.2,835.1 L197.5,835.3 L197.8,835.49 L198.1,835.69 L198.4,835.88 L198.7,836.07 L199,836.27 L199.3,836.46 L199.6,836.65 L199.9,836.85 L200.2,837.04 L200.5,837.24 L200.8,837.43 L201.1,837.63 L201.4,837.83 L201.7,838.03 L202,838.23 L202.3,838.43 L202.6,838.63 L202.9,838.83 L203.2,839.03 L203.5,839.23 L203.8,839.44 L204.1,839.64 L204.4,839.84 L204.7,840.05 L205,840.25 L205.3,840.45 L205.6,840.65 L205.9,840.86 L206.2,841.06 L206.5,841.26 L206.8,841.42 L207.1,841.48 L207.4,841.54 L207.7,841.6 L208,841.66 L208.3,841.72 L208.6,841.78 L208.9,841.84 L209.2,841.9 L209.5,841.96 L209.8,842 L210.1,842 L210.4,842 L210.7,842 L211,842 L211.3,842 L211.6,842 L211.9,842 L212.2,842 L212.5,842 L212.7,842 Z" fill="#e6cbc7" stroke="#c8687a" stroke-width="0.5" stroke-linejoin="round"/>
<path d="M156,842 L156,842 L156.3,841.28 L156.6,840.56 L156.9,839.84 L157.2,839.12 L157.5,838.4 L157.8,837.68 L158.1,836.96 L158.4,836.24 L158.7,834.9 L159,833.25 L159.3,831.6 L159.6,829.95 L159.9,828.3 L160.2,826.65 L160.5,825 L160.8,822.17 L161.1,819.33 L161.4,816.5 L161.7,813.67 L162,810.83 L162.3,808 L162.6,805.6 L162.9,803.2 L163.2,800.8 L163.5,798.4 L163.8,796 L164.1,794.8 L164.4,793.6 L164.7,792.4 L165,792.67 L165.3,793.67 L165.6,794.67 L165.9,795.67 L166.2,797.5 L166.5,799.75 L166.8,802 L167.1,804.25 L167.4,806.7 L167.7,809.25 L168,811.8 L168.3,814.35 L168.6,817 L168.9,819.7 L169.2,822.4 L169.5,825.1 L169.8,827.17 L170.1,828.93 L170.4,830.69 L170.7,832.44 L171,834.2 L171.3,834.89 L171.6,835.58 L171.9,836.27 L172.2,836.96 L172.5,837.65 L172.8,838.34 L173.1,838.9 L173.4,839.22 L173.7,839.53 L174,839.84 L174.3,840.16 L174.6,840.47 L174.9,840.78 L175.2,841.1 L175.5,841.29 L175.8,841.44 L176.1,841.58 L176.4,841.72 L176.7,841.86 L177,842 Z" fill="#e9cfcb" stroke="#c24a62" stroke-width="0.8" stroke-linejoin="round"/>
<path d="M153.1,842 L152.87,842 L153.96,841.12 L153.51,840.26 L152.95,841.23 L154.11,840.12 L153.88,838.41 L154.21,839.53 L153.88,839.13 L154,837.21 L155.66,837.52 L155.59,837.3 L155.74,836.09 L155.12,834.54 L156.11,835.62 L155.16,833.52 L155.58,831.72 L156.86,830.65 L157.2,829.11 L155.9,831.57 L156.89,827.82 L156.96,824.68 L156.6,828.75 L156.82,825.4 L158.41,823.3 L157.01,818.72 L158.17,815.76 L157.55,813.12 L159.26,814.72 L158.52,812.09 L158.17,811.89 L158.51,809.41 L160.12,807.68 L159.6,800.62 L159.07,803.07 L160.79,797.16 L159.42,801.81 L161.11,796.28 L160.7,788.71 L160.46,783.88 L161.06,788.19 L160.36,786.75 L161.96,776.33 L161.41,773.77 L162.57,766.79 L161.03,765.14 L161.79,764.31 L161.78,758.61 L162.18,761.19 L162.93,758.93 L163.41,761.62 L163.61,762.15 L163.3,772.75 L163.05,772.01 L163.57,772.89 L164.74,766.99 L163.87,769.68 L164.06,776 L163.91,774.1 L164.27,776.05 L165.76,765.8 L165.9,767.07 L165.49,777.08 L164.71,764.48 L165.5,766.7 L166.74,771.55 L165.45,768.64 L165.65,772.24 L166.6,767.26 L165.92,775.83 L167.27,773.77 L166.89,778.58 L166.7,781.02 L167.99,779.97 L167.69,783.07 L167.09,774.93 L167.51,781.16 L167.55,783.48 L168,786.35 L168.12,778.73 L169.01,784.94 L168.51,785.44 L170.1,787.86 L170.29,789.82 L170.59,785.75 L169.98,796.3 L170.17,793.8 L169.52,799.14 L170.58,797.75 L171.1,795.06 L170.19,800.03 L171.02,800.56 L171.55,799.26 L171.69,795.78 L172.38,799.66 L172.48,799.08 L172.32,804.58 L171.46,806.69 L172.7,804.83 L172.53,806.33 L172.34,801.43 L172.53,806.97 L173.04,802.76 L173.56,807.02 L174.2,803.78 L174.41,807.14 L174.92,805 L175.16,810.64 L175.1,814.61 L174.43,807.88 L175.4,809.59 L174.6,809.94 L174.62,809.96 L176.36,817.02 L176.13,812.9 L175.94,814.07 L176.34,813.71 L175.86,813.09 L175.96,815.68 L177.5,815.49 L176.19,812.73 L176.3,819.03 L177.93,815.32 L177,818.36 L177.3,814.75 L178.44,816.94 L178.62,822.25 L179.08,822.11 L179.26,822.32 L177.97,823.34 L178.44,819.21 L179.09,821.61 L179.91,820.26 L178.98,821.04 L179.63,820.64 L180.02,823.28 L179.54,822.57 L179.99,822.74 L180.58,821.68 L181.08,822 L180.25,824.97 L180.81,824.73 L181.49,823.56 L182.19,825.54 L181.18,825.34 L181.6,824.08 L182.19,820.71 L182.96,823.57 L183.1,822.6 L181.98,823.79 L182.51,825.18 L182.33,824.1 L184.06,820.87 L182.87,821.17 L182.97,822.04 L184.79,826.32 L183.91,825.31 L184.31,826.9 L184.84,822.27 L184.29,823.77 L184.69,823.64 L185.3,822.9 L185.43,827.26 L185.83,822.07 L185.66,822.26 L186.22,827.56 L186.56,827.93 L185.66,824.17 L186.82,825.37 L186.4,824.16 L186.63,827.39 L187.18,826.61 L186.45,828.68 L188,824.36 L186.97,827.35 L187.38,824.3 L188.82,826.83 L187.77,825.02 L188.36,827.89 L189.6,828.93 L189.29,829.56 L188.31,827.12 L189.12,829.03 L189.74,827.16 L189.8,830.13 L190.74,829.97 L189.84,825.35 L190.78,830.01 L189.94,830.57 L191.48,828.22 L191.21,828.38 L190.51,830.91 L191.94,825.93 L190.96,828.95 L191.31,830.47 L191.54,826.79 L191.93,826.45 L192.22,830.62 L191.68,831.75 L192.06,827.68 L192.36,829.97 L193.14,830.61 L193.92,830.3 L194.26,831.54 L193.48,828.39 L193.71,832.7 L194.07,829.4 L194.93,829.03 L193.77,831.48 L194.74,833.25 L195.1,829.85 L194.82,833.42 L194.76,828.95 L195.55,829.32 L196.33,830.69 L195.03,830.32 L195.42,831.7 L195.81,831.1 L196.75,830.62 L196.47,834.31 L196.58,833.04 L197.2,834.45 L197.74,830.51 L196.68,831.48 L198.31,830.76 L197.64,834 L198.47,833.44 L198.67,831.44 L199.3,834.36 L198.83,831.65 L199.52,833.74 L199.39,833.25 L199.03,835.65 L200.21,834.16 L200.55,832.27 L199.82,833.57 L200.64,833.6 L200.75,834.74 L201.18,833.13 L201.02,836.15 L200.47,833.9 L200.32,834.94 L201.13,837.03 L200.93,837.15 L202.24,836.1 L201.76,836.21 L201.98,834 L203.1,835.53 L203.32,837.8 L202.1,837.93 L202.53,834.65 L202.41,834.73 L202.76,836.87 L203.29,837.11 L204.54,836.1 L204.59,835.95 L204.39,837.23 L204.74,836.11 L203.96,838.66 L204.98,837.46 L205.35,837.6 L204.77,838.26 L205.79,838.5 L205.66,837.98 L205.66,838.62 L205.73,837.18 L206.5,839.27 L206.26,837.46 L206.56,839 L206.96,837.98 L206.96,839.52 L207.24,840.24 L206.91,838.02 L206.74,839.85 L208.06,840.58 L207.31,840.2 L208.77,838.57 L208.2,839.83 L208.98,839.96 L209.19,839.77 L209.76,839.46 L208.77,840.65 L209.99,840.33 L209.86,840.16 L210.53,841.33 L210.43,840.27 L210.66,840.97 L210.14,840.2 L211.07,840.9 L209.88,841 L211.5,840.76 L211.23,841.75 L211.79,840.84 L211.12,841.85 L211.32,841.51 L212.32,841.22 L211.36,841.45 L211.57,842 L213.07,842 L212.47,842 L212.7,842" fill="none" stroke="#ac0f32" stroke-width="1.1" stroke-opacity="1" stroke-linejoin="round"/>
<line x1="49.6" y1="753.9" x2="138.2" y2="753.9" stroke="#111" stroke-width="1.4" stroke-linecap="butt"/>
<line x1="138.2" y1="753.9" x2="138.2" y2="842.7" stroke="#111" stroke-width="1.4" stroke-linecap="butt"/>
<line x1="49.6" y1="753.2" x2="49.6" y2="842.7" stroke="#111" stroke-width="1.5" stroke-linecap="butt"/>
<line x1="48.9" y1="842" x2="138.9" y2="842" stroke="#111" stroke-width="1.5" stroke-linecap="butt"/>
<line x1="46" y1="762.7" x2="49.6" y2="762.7" stroke="#111" stroke-width="1.2" stroke-linecap="butt"/>
<line x1="46" y1="789.2" x2="49.6" y2="789.2" stroke="#111" stroke-width="1.2" stroke-linecap="butt"/>
<line x1="46" y1="815.7" x2="49.6" y2="815.7" stroke="#111" stroke-width="1.2" stroke-linecap="butt"/>
<line x1="47.2" y1="757.4" x2="49.6" y2="757.4" stroke="#111" stroke-width="1.1" stroke-linecap="butt"/>
<line x1="47.2" y1="768" x2="49.6" y2="768" stroke="#111" stroke-width="1.1" stroke-linecap="butt"/>
<line x1="47.2" y1="773.3" x2="49.6" y2="773.3" stroke="#111" stroke-width="1.1" stroke-linecap="butt"/>
<line x1="47.2" y1="778.6" x2="49.6" y2="778.6" stroke="#111" stroke-width="1.1" stroke-linecap="butt"/>
<line x1="47.2" y1="783.9" x2="49.6" y2="783.9" stroke="#111" stroke-width="1.1" stroke-linecap="butt"/>
<line x1="47.2" y1="794.5" x2="49.6" y2="794.5" stroke="#111" stroke-width="1.1" stroke-linecap="butt"/>
<line x1="47.2" y1="799.8" x2="49.6" y2="799.8" stroke="#111" stroke-width="1.1" stroke-linecap="butt"/>
<line x1="47.2" y1="805.1" x2="49.6" y2="805.1" stroke="#111" stroke-width="1.1" stroke-linecap="butt"/>
<line x1="47.2" y1="810.4" x2="49.6" y2="810.4" stroke="#111" stroke-width="1.1" stroke-linecap="butt"/>
<line x1="47.2" y1="821" x2="49.6" y2="821" stroke="#111" stroke-width="1.1" stroke-linecap="butt"/>
<line x1="47.2" y1="826.3" x2="49.6" y2="826.3" stroke="#111" stroke-width="1.1" stroke-linecap="butt"/>
<line x1="47.2" y1="831.6" x2="49.6" y2="831.6" stroke="#111" stroke-width="1.1" stroke-linecap="butt"/>
<line x1="47.2" y1="836.9" x2="49.6" y2="836.9" stroke="#111" stroke-width="1.1" stroke-linecap="butt"/>
<line x1="54.52" y1="842" x2="54.52" y2="844.2" stroke="#111" stroke-width="1" stroke-linecap="butt"/>
<line x1="57.76" y1="842" x2="57.76" y2="844.2" stroke="#111" stroke-width="1" stroke-linecap="butt"/>
<line x1="60.05" y1="842" x2="60.05" y2="844.2" stroke="#111" stroke-width="1" stroke-linecap="butt"/>
<line x1="61.83" y1="842" x2="61.83" y2="844.2" stroke="#111" stroke-width="1" stroke-linecap="butt"/>
<line x1="63.28" y1="842" x2="63.28" y2="844.2" stroke="#111" stroke-width="1" stroke-linecap="butt"/>
<line x1="64.51" y1="842" x2="64.51" y2="844.2" stroke="#111" stroke-width="1" stroke-linecap="butt"/>
<line x1="65.57" y1="842" x2="65.57" y2="844.2" stroke="#111" stroke-width="1" stroke-linecap="butt"/>
<line x1="66.51" y1="842" x2="66.51" y2="844.2" stroke="#111" stroke-width="1" stroke-linecap="butt"/>
<line x1="67.35" y1="842" x2="67.35" y2="845.6" stroke="#111" stroke-width="1" stroke-linecap="butt"/>
<line x1="72.87" y1="842" x2="72.87" y2="844.2" stroke="#111" stroke-width="1" stroke-linecap="butt"/>
<line x1="76.11" y1="842" x2="76.11" y2="844.2" stroke="#111" stroke-width="1" stroke-linecap="butt"/>
<line x1="78.4" y1="842" x2="78.4" y2="844.2" stroke="#111" stroke-width="1" stroke-linecap="butt"/>
<line x1="80.18" y1="842" x2="80.18" y2="844.2" stroke="#111" stroke-width="1" stroke-linecap="butt"/>
<line x1="81.63" y1="842" x2="81.63" y2="844.2" stroke="#111" stroke-width="1" stroke-linecap="butt"/>
<line x1="82.86" y1="842" x2="82.86" y2="844.2" stroke="#111" stroke-width="1" stroke-linecap="butt"/>
<line x1="83.92" y1="842" x2="83.92" y2="844.2" stroke="#111" stroke-width="1" stroke-linecap="butt"/>
<line x1="84.86" y1="842" x2="84.86" y2="844.2" stroke="#111" stroke-width="1" stroke-linecap="butt"/>
<line x1="85.7" y1="842" x2="85.7" y2="845.6" stroke="#111" stroke-width="1" stroke-linecap="butt"/>
<line x1="91.22" y1="842" x2="91.22" y2="844.2" stroke="#111" stroke-width="1" stroke-linecap="butt"/>
<line x1="94.46" y1="842" x2="94.46" y2="844.2" stroke="#111" stroke-width="1" stroke-linecap="butt"/>
<line x1="96.75" y1="842" x2="96.75" y2="844.2" stroke="#111" stroke-width="1" stroke-linecap="butt"/>
<line x1="98.53" y1="842" x2="98.53" y2="844.2" stroke="#111" stroke-width="1" stroke-linecap="butt"/>
<line x1="99.98" y1="842" x2="99.98" y2="844.2" stroke="#111" stroke-width="1" stroke-linecap="butt"/>
<line x1="101.21" y1="842" x2="101.21" y2="844.2" stroke="#111" stroke-width="1" stroke-linecap="butt"/>
<line x1="102.27" y1="842" x2="102.27" y2="844.2" stroke="#111" stroke-width="1" stroke-linecap="butt"/>
<line x1="103.21" y1="842" x2="103.21" y2="844.2" stroke="#111" stroke-width="1" stroke-linecap="butt"/>
<line x1="104.05" y1="842" x2="104.05" y2="845.6" stroke="#111" stroke-width="1" stroke-linecap="butt"/>
<line x1="109.57" y1="842" x2="109.57" y2="844.2" stroke="#111" stroke-width="1" stroke-linecap="butt"/>
<line x1="112.81" y1="842" x2="112.81" y2="844.2" stroke="#111" stroke-width="1" stroke-linecap="butt"/>
<line x1="115.1" y1="842" x2="115.1" y2="844.2" stroke="#111" stroke-width="1" stroke-linecap="butt"/>
<line x1="116.88" y1="842" x2="116.88" y2="844.2" stroke="#111" stroke-width="1" stroke-linecap="butt"/>
<line x1="118.33" y1="842" x2="118.33" y2="844.2" stroke="#111" stroke-width="1" stroke-linecap="butt"/>
<line x1="119.56" y1="842" x2="119.56" y2="844.2" stroke="#111" stroke-width="1" stroke-linecap="butt"/>
<line x1="120.62" y1="842" x2="120.62" y2="844.2" stroke="#111" stroke-width="1" stroke-linecap="butt"/>
<line x1="121.56" y1="842" x2="121.56" y2="844.2" stroke="#111" stroke-width="1" stroke-linecap="butt"/>
<line x1="122.4" y1="842" x2="122.4" y2="845.6" stroke="#111" stroke-width="1" stroke-linecap="butt"/>
<line x1="127.92" y1="842" x2="127.92" y2="844.2" stroke="#111" stroke-width="1" stroke-linecap="butt"/>
<line x1="131.16" y1="842" x2="131.16" y2="844.2" stroke="#111" stroke-width="1" stroke-linecap="butt"/>
<line x1="133.45" y1="842" x2="133.45" y2="844.2" stroke="#111" stroke-width="1" stroke-linecap="butt"/>
<line x1="135.23" y1="842" x2="135.23" y2="844.2" stroke="#111" stroke-width="1" stroke-linecap="butt"/>
<line x1="136.68" y1="842" x2="136.68" y2="844.2" stroke="#111" stroke-width="1" stroke-linecap="butt"/>
<line x1="137.91" y1="842" x2="137.91" y2="844.2" stroke="#111" stroke-width="1" stroke-linecap="butt"/>
<line x1="148.3" y1="754" x2="237" y2="754" stroke="#111" stroke-width="1.4" stroke-linecap="butt"/>
<line x1="237" y1="754" x2="237" y2="842.9" stroke="#111" stroke-width="1.4" stroke-linecap="butt"/>
<line x1="148.3" y1="753.3" x2="148.3" y2="842.9" stroke="#111" stroke-width="1.5" stroke-linecap="butt"/>
<line x1="147.6" y1="842.2" x2="237.7" y2="842.2" stroke="#111" stroke-width="1.5" stroke-linecap="butt"/>
<line x1="144.7" y1="759.4" x2="148.3" y2="759.4" stroke="#111" stroke-width="1.2" stroke-linecap="butt"/>
<line x1="144.7" y1="780" x2="148.3" y2="780" stroke="#111" stroke-width="1.2" stroke-linecap="butt"/>
<line x1="144.7" y1="800.6" x2="148.3" y2="800.6" stroke="#111" stroke-width="1.2" stroke-linecap="butt"/>
<line x1="144.7" y1="821.2" x2="148.3" y2="821.2" stroke="#111" stroke-width="1.2" stroke-linecap="butt"/>
<line x1="145.9" y1="757.34" x2="148.3" y2="757.34" stroke="#111" stroke-width="1.1" stroke-linecap="butt"/>
<line x1="145.9" y1="761.46" x2="148.3" y2="761.46" stroke="#111" stroke-width="1.1" stroke-linecap="butt"/>
<line x1="145.9" y1="763.52" x2="148.3" y2="763.52" stroke="#111" stroke-width="1.1" stroke-linecap="butt"/>
<line x1="145.9" y1="765.58" x2="148.3" y2="765.58" stroke="#111" stroke-width="1.1" stroke-linecap="butt"/>
<line x1="145.9" y1="767.64" x2="148.3" y2="767.64" stroke="#111" stroke-width="1.1" stroke-linecap="butt"/>
<line x1="145.9" y1="769.7" x2="148.3" y2="769.7" stroke="#111" stroke-width="1.1" stroke-linecap="butt"/>
<line x1="145.9" y1="771.76" x2="148.3" y2="771.76" stroke="#111" stroke-width="1.1" stroke-linecap="butt"/>
<line x1="145.9" y1="773.82" x2="148.3" y2="773.82" stroke="#111" stroke-width="1.1" stroke-linecap="butt"/>
<line x1="145.9" y1="775.88" x2="148.3" y2="775.88" stroke="#111" stroke-width="1.1" stroke-linecap="butt"/>
<line x1="145.9" y1="777.94" x2="148.3" y2="777.94" stroke="#111" stroke-width="1.1" stroke-linecap="butt"/>
<line x1="145.9" y1="782.06" x2="148.3" y2="782.06" stroke="#111" stroke-width="1.1" stroke-linecap="butt"/>
<line x1="145.9" y1="784.12" x2="148.3" y2="784.12" stroke="#111" stroke-width="1.1" stroke-linecap="butt"/>
<line x1="145.9" y1="786.18" x2="148.3" y2="786.18" stroke="#111" stroke-width="1.1" stroke-linecap="butt"/>
<line x1="145.9" y1="788.24" x2="148.3" y2="788.24" stroke="#111" stroke-width="1.1" stroke-linecap="butt"/>
<line x1="145.9" y1="790.3" x2="148.3" y2="790.3" stroke="#111" stroke-width="1.1" stroke-linecap="butt"/>
<line x1="145.9" y1="792.36" x2="148.3" y2="792.36" stroke="#111" stroke-width="1.1" stroke-linecap="butt"/>
<line x1="145.9" y1="794.42" x2="148.3" y2="794.42" stroke="#111" stroke-width="1.1" stroke-linecap="butt"/>
<line x1="145.9" y1="796.48" x2="148.3" y2="796.48" stroke="#111" stroke-width="1.1" stroke-linecap="butt"/>
<line x1="145.9" y1="798.54" x2="148.3" y2="798.54" stroke="#111" stroke-width="1.1" stroke-linecap="butt"/>
<line x1="145.9" y1="802.66" x2="148.3" y2="802.66" stroke="#111" stroke-width="1.1" stroke-linecap="butt"/>
<line x1="145.9" y1="804.72" x2="148.3" y2="804.72" stroke="#111" stroke-width="1.1" stroke-linecap="butt"/>
<line x1="145.9" y1="806.78" x2="148.3" y2="806.78" stroke="#111" stroke-width="1.1" stroke-linecap="butt"/>
<line x1="145.9" y1="808.84" x2="148.3" y2="808.84" stroke="#111" stroke-width="1.1" stroke-linecap="butt"/>
<line x1="145.9" y1="810.9" x2="148.3" y2="810.9" stroke="#111" stroke-width="1.1" stroke-linecap="butt"/>
<line x1="145.9" y1="812.96" x2="148.3" y2="812.96" stroke="#111" stroke-width="1.1" stroke-linecap="butt"/>
<line x1="145.9" y1="815.02" x2="148.3" y2="815.02" stroke="#111" stroke-width="1.1" stroke-linecap="butt"/>
<line x1="145.9" y1="817.08" x2="148.3" y2="817.08" stroke="#111" stroke-width="1.1" stroke-linecap="butt"/>
<line x1="145.9" y1="819.14" x2="148.3" y2="819.14" stroke="#111" stroke-width="1.1" stroke-linecap="butt"/>
<line x1="145.9" y1="823.26" x2="148.3" y2="823.26" stroke="#111" stroke-width="1.1" stroke-linecap="butt"/>
<line x1="145.9" y1="825.32" x2="148.3" y2="825.32" stroke="#111" stroke-width="1.1" stroke-linecap="butt"/>
<line x1="145.9" y1="827.38" x2="148.3" y2="827.38" stroke="#111" stroke-width="1.1" stroke-linecap="butt"/>
<line x1="145.9" y1="829.44" x2="148.3" y2="829.44" stroke="#111" stroke-width="1.1" stroke-linecap="butt"/>
<line x1="145.9" y1="831.5" x2="148.3" y2="831.5" stroke="#111" stroke-width="1.1" stroke-linecap="butt"/>
<line x1="145.9" y1="833.56" x2="148.3" y2="833.56" stroke="#111" stroke-width="1.1" stroke-linecap="butt"/>
<line x1="145.9" y1="835.62" x2="148.3" y2="835.62" stroke="#111" stroke-width="1.1" stroke-linecap="butt"/>
<line x1="145.9" y1="837.68" x2="148.3" y2="837.68" stroke="#111" stroke-width="1.1" stroke-linecap="butt"/>
<line x1="145.9" y1="839.74" x2="148.3" y2="839.74" stroke="#111" stroke-width="1.1" stroke-linecap="butt"/>
<line x1="152.62" y1="842.2" x2="152.62" y2="844.4" stroke="#111" stroke-width="1" stroke-linecap="butt"/>
<line x1="155.86" y1="842.2" x2="155.86" y2="844.4" stroke="#111" stroke-width="1" stroke-linecap="butt"/>
<line x1="158.15" y1="842.2" x2="158.15" y2="844.4" stroke="#111" stroke-width="1" stroke-linecap="butt"/>
<line x1="159.93" y1="842.2" x2="159.93" y2="844.4" stroke="#111" stroke-width="1" stroke-linecap="butt"/>
<line x1="161.38" y1="842.2" x2="161.38" y2="844.4" stroke="#111" stroke-width="1" stroke-linecap="butt"/>
<line x1="162.61" y1="842.2" x2="162.61" y2="844.4" stroke="#111" stroke-width="1" stroke-linecap="butt"/>
<line x1="163.67" y1="842.2" x2="163.67" y2="844.4" stroke="#111" stroke-width="1" stroke-linecap="butt"/>
<line x1="164.61" y1="842.2" x2="164.61" y2="844.4" stroke="#111" stroke-width="1" stroke-linecap="butt"/>
<line x1="165.3" y1="842.2" x2="165.3" y2="845.8" stroke="#111" stroke-width="1" stroke-linecap="butt"/>
<line x1="170.82" y1="842.2" x2="170.82" y2="844.4" stroke="#111" stroke-width="1" stroke-linecap="butt"/>
<line x1="174.06" y1="842.2" x2="174.06" y2="844.4" stroke="#111" stroke-width="1" stroke-linecap="butt"/>
<line x1="176.35" y1="842.2" x2="176.35" y2="844.4" stroke="#111" stroke-width="1" stroke-linecap="butt"/>
<line x1="178.13" y1="842.2" x2="178.13" y2="844.4" stroke="#111" stroke-width="1" stroke-linecap="butt"/>
<line x1="179.58" y1="842.2" x2="179.58" y2="844.4" stroke="#111" stroke-width="1" stroke-linecap="butt"/>
<line x1="180.81" y1="842.2" x2="180.81" y2="844.4" stroke="#111" stroke-width="1" stroke-linecap="butt"/>
<line x1="181.87" y1="842.2" x2="181.87" y2="844.4" stroke="#111" stroke-width="1" stroke-linecap="butt"/>
<line x1="182.81" y1="842.2" x2="182.81" y2="844.4" stroke="#111" stroke-width="1" stroke-linecap="butt"/>
<line x1="183.5" y1="842.2" x2="183.5" y2="845.8" stroke="#111" stroke-width="1" stroke-linecap="butt"/>
<line x1="189.02" y1="842.2" x2="189.02" y2="844.4" stroke="#111" stroke-width="1" stroke-linecap="butt"/>
<line x1="192.26" y1="842.2" x2="192.26" y2="844.4" stroke="#111" stroke-width="1" stroke-linecap="butt"/>
<line x1="194.55" y1="842.2" x2="194.55" y2="844.4" stroke="#111" stroke-width="1" stroke-linecap="butt"/>
<line x1="196.33" y1="842.2" x2="196.33" y2="844.4" stroke="#111" stroke-width="1" stroke-linecap="butt"/>
<line x1="197.78" y1="842.2" x2="197.78" y2="844.4" stroke="#111" stroke-width="1" stroke-linecap="butt"/>
<line x1="199.01" y1="842.2" x2="199.01" y2="844.4" stroke="#111" stroke-width="1" stroke-linecap="butt"/>
<line x1="200.07" y1="842.2" x2="200.07" y2="844.4" stroke="#111" stroke-width="1" stroke-linecap="butt"/>
<line x1="201.01" y1="842.2" x2="201.01" y2="844.4" stroke="#111" stroke-width="1" stroke-linecap="butt"/>
<line x1="201.7" y1="842.2" x2="201.7" y2="845.8" stroke="#111" stroke-width="1" stroke-linecap="butt"/>
<line x1="207.22" y1="842.2" x2="207.22" y2="844.4" stroke="#111" stroke-width="1" stroke-linecap="butt"/>
<line x1="210.46" y1="842.2" x2="210.46" y2="844.4" stroke="#111" stroke-width="1" stroke-linecap="butt"/>
<line x1="212.75" y1="842.2" x2="212.75" y2="844.4" stroke="#111" stroke-width="1" stroke-linecap="butt"/>
<line x1="214.53" y1="842.2" x2="214.53" y2="844.4" stroke="#111" stroke-width="1" stroke-linecap="butt"/>
<line x1="215.98" y1="842.2" x2="215.98" y2="844.4" stroke="#111" stroke-width="1" stroke-linecap="butt"/>
<line x1="217.21" y1="842.2" x2="217.21" y2="844.4" stroke="#111" stroke-width="1" stroke-linecap="butt"/>
<line x1="218.27" y1="842.2" x2="218.27" y2="844.4" stroke="#111" stroke-width="1" stroke-linecap="butt"/>
<line x1="219.21" y1="842.2" x2="219.21" y2="844.4" stroke="#111" stroke-width="1" stroke-linecap="butt"/>
<line x1="219.9" y1="842.2" x2="219.9" y2="845.8" stroke="#111" stroke-width="1" stroke-linecap="butt"/>
<line x1="225.42" y1="842.2" x2="225.42" y2="844.4" stroke="#111" stroke-width="1" stroke-linecap="butt"/>
<line x1="228.66" y1="842.2" x2="228.66" y2="844.4" stroke="#111" stroke-width="1" stroke-linecap="butt"/>
<line x1="230.95" y1="842.2" x2="230.95" y2="844.4" stroke="#111" stroke-width="1" stroke-linecap="butt"/>
<line x1="232.73" y1="842.2" x2="232.73" y2="844.4" stroke="#111" stroke-width="1" stroke-linecap="butt"/>
<line x1="234.18" y1="842.2" x2="234.18" y2="844.4" stroke="#111" stroke-width="1" stroke-linecap="butt"/>
<line x1="235.41" y1="842.2" x2="235.41" y2="844.4" stroke="#111" stroke-width="1" stroke-linecap="butt"/>
<line x1="236.47" y1="842.2" x2="236.47" y2="844.4" stroke="#111" stroke-width="1" stroke-linecap="butt"/>
<line x1="35.1" y1="756.5" x2="35.1" y2="813" stroke="#151515" stroke-width="1.4" stroke-linecap="butt"/>
<path d="M35.1,753.1 L33.0,757.6 L37.2,757.6 Z" fill="#111"/>
<text transform="translate(38.6,828) rotate(-90) scale(0.74,1)" x="0" y="0" font-size="10.3" text-anchor="middle" fill="#1a1a1a" style="stroke-width:0.55px">Count</text>
<text transform="translate(55.8,860.8) scale(0.69,1)" x="0" y="0" font-size="10.3" text-anchor="start" fill="#1a1a1a" style="stroke-width:0.55px">CCNA1</text>
<line x1="84.2" y1="856.95" x2="233" y2="856.95" stroke="#2a2a2a" stroke-width="1.5" stroke-linecap="butt"/>
<path d="M236.8,856.95 L231.5,854.85 L231.5,859.05 Z" fill="#151515"/>
<rect x="0.75" y="0.75" width="518.25" height="871.25" fill="none" stroke="#000" stroke-width="1.6"/>
<rect x="518.2" y="0" width="1.8" height="873" fill="#000"/>
<rect x="0" y="871" width="520" height="2" fill="#000"/>
</svg>
</body></html>
